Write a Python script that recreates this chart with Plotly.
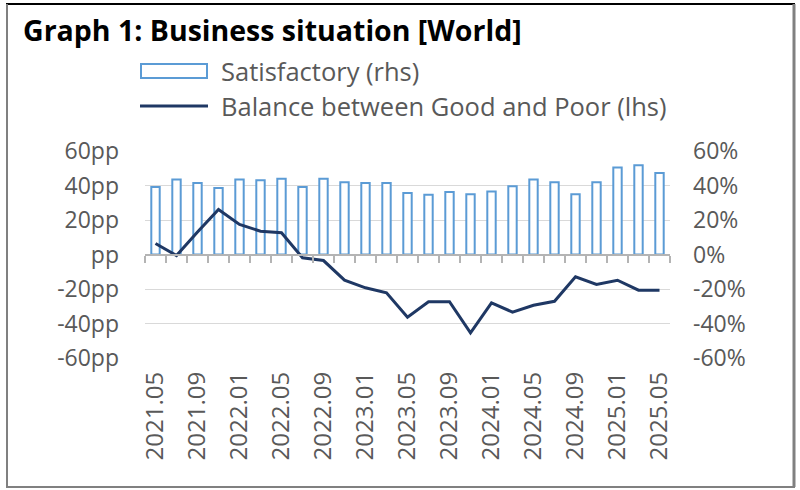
import plotly.graph_objects as go

# ---- data ----
periods = ["2021.05","2021.07","2021.09","2021.11","2022.01","2022.03","2022.05","2022.07",
           "2022.09","2022.11","2023.01","2023.03","2023.05","2023.07","2023.09","2023.11",
           "2024.01","2024.03","2024.05","2024.07","2024.09","2024.11","2025.01","2025.03","2025.05"]
satisfactory = [39.2, 43.5, 41.5, 38.6, 43.5, 43.1, 43.9, 39.2, 43.9, 41.9, 41.5, 41.5, 35.7,
                34.6, 36.3, 35.0, 36.5, 39.6, 43.5, 41.9, 35.0, 41.9, 50.4, 51.8, 47.3]
balance = [6.4, -0.6, 13.0, 26.1, 17.4, 13.5, 12.6, -1.9, -3.5, -14.9, -19.3, -22.2, -36.3,
           -27.4, -27.4, -45.4, -28.0, -33.4, -29.4, -27.1, -12.9, -17.4, -14.9, -20.7, -20.7]
tick_vals = [-60, -40, -20, 0, 20, 40, 60]
left_ticks = ["-60pp", "-40pp", "-20pp", "pp", "20pp", "40pp", "60pp"]
right_ticks = ["-60%", "-40%", "-20%", "0%", "20%", "40%", "60%"]
x_labels = periods[::2]
series_names = ["Satisfactory (rhs)", "Balance between Good and Poor (lhs)"]

FONT = "Open Sans"
GREY = "#595959"
BAR_BLUE = "#5b9bd5"
NAVY = "#1f3864"
AXIS_GREY = "#b4b4b4"

fig = go.Figure()
# bars (share the -60..60 scale with the right axis); line drawn on the overlaying axis so it sits on top
fig.add_trace(go.Bar(
    x=periods, y=satisfactory, name=series_names[0], yaxis="y",
    marker=dict(color="white", line=dict(color=BAR_BLUE, width=2)),
    showlegend=False,
))
fig.add_trace(go.Scatter(
    x=periods, y=balance, name=series_names[1], yaxis="y2",
    mode="lines", line=dict(color=NAVY, width=3), showlegend=False,
))
# invisible helper trace so the zero-line category axis (with boundary ticks) is drawn
fig.add_trace(go.Scatter(
    x=list(range(len(periods))), y=balance, xaxis="x2", yaxis="y",
    mode="lines", line=dict(width=0), opacity=0, hoverinfo="skip", showlegend=False,
))

# pixel helpers for decorations (plot area 145..670 x 151..358)
L, R, T, B = 145, 670, 151, 358
def px(x): return (x - L) / (R - L)
def py(y): return (B - y) / (B - T)

shapes = [
    # frame
    dict(type="line", xref="paper", yref="paper", x0=px(6), x1=px(795), y0=py(4), y1=py(4),
         line=dict(color="black", width=2)),
    dict(type="line", xref="paper", yref="paper", x0=px(7), x1=px(7), y0=py(4), y1=py(487),
         line=dict(color="#808080", width=2)),
    dict(type="line", xref="paper", yref="paper", x0=px(794), x1=px(794), y0=py(4), y1=py(487),
         line=dict(color="#808080", width=3)),
    dict(type="line", xref="paper", yref="paper", x0=px(6), x1=px(795), y0=py(487), y1=py(487),
         line=dict(color="#808080", width=2)),
    # legend symbols
    dict(type="rect", xref="paper", yref="paper", x0=px(141), x1=px(207), y0=py(64), y1=py(78),
         line=dict(color=BAR_BLUE, width=2), fillcolor="white"),
    dict(type="line", xref="paper", yref="paper", x0=px(140), x1=px(208), y0=py(106), y1=py(106),
         line=dict(color=NAVY, width=3)),
]
annotations = [
    dict(text=series_names[0], xref="paper", yref="paper", x=px(219), y=py(71),
         xanchor="left", yanchor="middle", showarrow=False,
         font=dict(family=FONT, size=25.5, color=GREY)),
    dict(text=series_names[1], xref="paper", yref="paper", x=px(219), y=py(106),
         xanchor="left", yanchor="middle", showarrow=False,
         font=dict(family=FONT, size=25.5, color=GREY)),
]

fig.update_layout(
    width=800, height=490,
    margin=dict(l=L, r=800 - R, t=T, b=490 - B),
    paper_bgcolor="white", plot_bgcolor="white",
    bargap=0.6,
    font=dict(family=FONT, color=GREY, size=20),
    title=dict(text="<b>Graph 1: Business situation [World]</b>",
               font=dict(family="Open Sans", size=28.5, color="black"),
               xref="container", yref="container", x=23/800, xanchor="left",
               y=1 - 31/490, yanchor="middle"),
    showlegend=False,
    xaxis=dict(type="category", range=[-0.5, len(periods) - 0.5],
               tickmode="array", tickvals=x_labels, ticktext=x_labels,
               tickangle=-90, ticks="", showline=False, showgrid=False,
               tickfont=dict(family=FONT, size=24, color=GREY),
               ticklabelstandoff=8),
    xaxis2=dict(overlaying="x", anchor="free", position=0.5, side="bottom",
                range=[-0.5, len(periods) - 0.5],
                tickmode="array", tickvals=[i - 0.5 for i in range(len(periods) + 1)],
                ticks="outside", ticklen=7, tickcolor=AXIS_GREY, tickwidth=2,
                showline=True, linecolor=AXIS_GREY, linewidth=2,
                showticklabels=False, showgrid=False, zeroline=False),
    yaxis=dict(range=[-60, 60], tickmode="array", tickvals=tick_vals, ticktext=left_ticks,
               showgrid=True, gridcolor="#d9d9d9", gridwidth=1, zeroline=False,
               showline=False, ticks="", tickfont=dict(family=FONT, size=23, color=GREY),
               ticklabelstandoff=25),
    yaxis2=dict(overlaying="y", side="right", range=[-60, 60], tickmode="array",
                tickvals=tick_vals, ticktext=right_ticks, showgrid=False, zeroline=False,
                showline=False, ticks="", tickfont=dict(family=FONT, size=23, color=GREY),
                ticklabelstandoff=22),
    shapes=shapes,
    annotations=annotations,
)

fig.write_html("out.html")
